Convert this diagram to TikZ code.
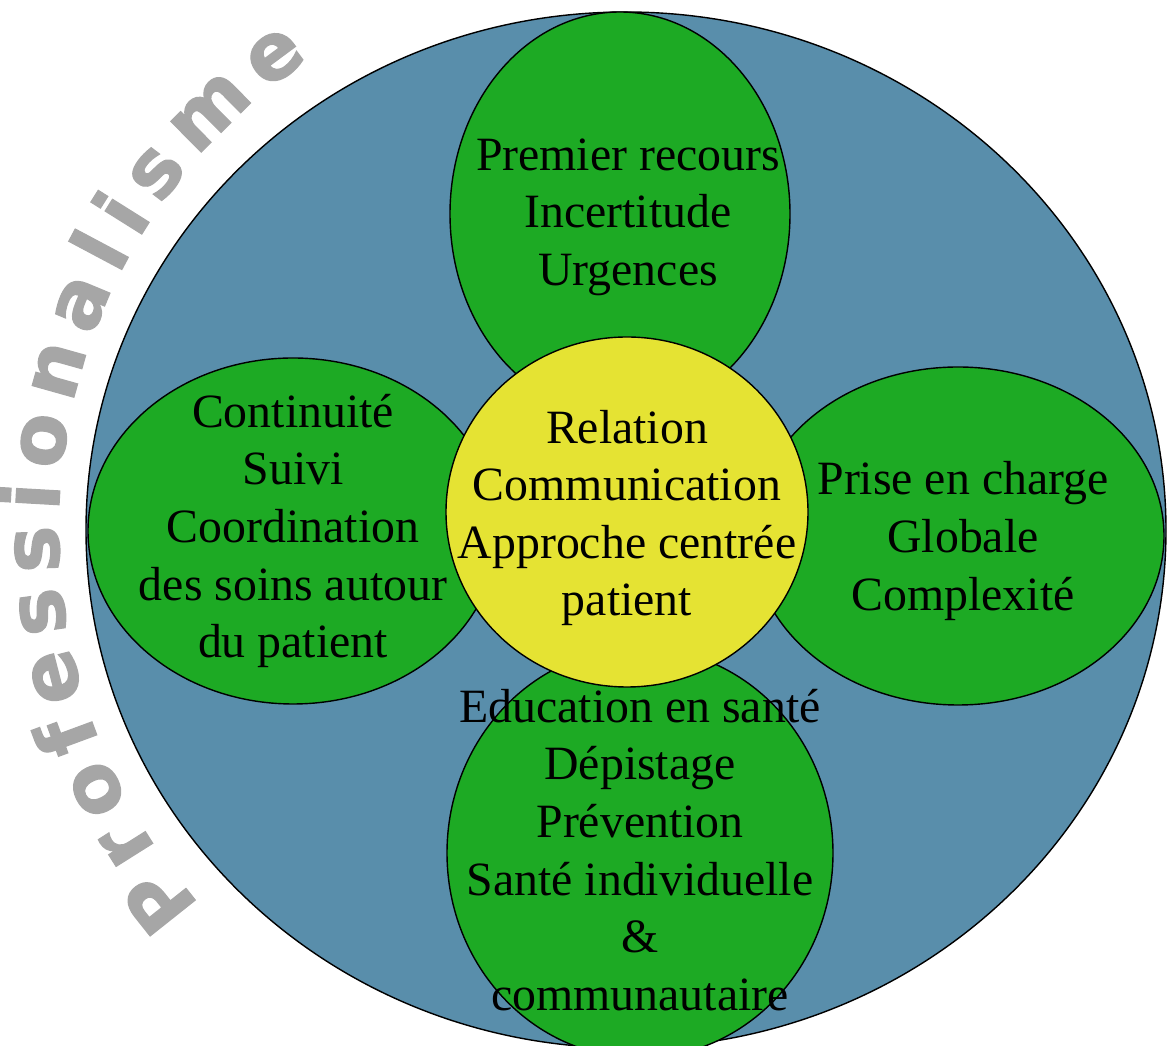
\documentclass[tikz,border=0pt]{standalone}
\usepackage{fontspec}
\setmainfont{Liberation Serif}
\newfontfamily\profont[FakeBold=1.5]{DejaVu Sans}
\usepackage{tikz}
\usepackage{xcolor}
\usetikzlibrary{shapes.geometric, decorations.text}

\definecolor{bluebg}{HTML}{598EAB}
\definecolor{petalgreen}{HTML}{1DAA24}
\definecolor{coreyellow}{HTML}{E5E333}
\definecolor{profgrey}{HTML}{A6A6A6}

\begin{document}
\begin{tikzpicture}[
	blob/.style={shape=ellipse, draw, line width=0.8pt, inner sep=0pt},
	petal/.style={blob, fill=petalgreen},
	txt/.style={align=center, inner sep=0pt, font=\fontsize{27.2}{32.8}\selectfont}]
	\useasboundingbox (0, 0) rectangle (23.34, 20.92);
	% Outer disc and the arc title:
	\node[blob, fill=bluebg, minimum width=21.6cm, minimum height=20.72cm](N1) at (12.52, 10.32){};
	\path[decorate, decoration={text along path, text={|\profont\bfseries\fontsize{45}{45}\selectfont|Professionalisme}, text align={fit to path}, text color=profgrey}]
		(N1.center) ++(221.4:11.35) arc[start angle=221.4, end angle=123.9, radius=11.35];
	% Petals:
	\node[petal, minimum width=6.8cm, minimum height=8.08cm](N2) at (12.40, 16.64){} node[txt](T2) at ([xshift=0.16cm, yshift=-0.06cm]N2.center){Premier recours\\Incertitude\\Urgences};
	\node[petal, minimum width=8.2cm, minimum height=6.92cm](N3) at (5.86, 10.30){} node[txt](T3) at (N3.center){Continuité\\Suivi\\Coordination\\des soins autour\\du patient};
	\node[petal, minimum width=8.24cm, minimum height=6.76cm](N4) at (19.16, 10.20){} node[txt](T4) at ([xshift=0.1cm, yshift=-0.1cm]N4.center){Prise en charge\\Globale\\Complexité};
	\node[petal, minimum width=7.72cm, minimum height=8.2cm](N5) at (12.80, 3.86){} node[txt](T5) at ([yshift=0.06cm]N5.center){Education en santé\\Dépistage\\Prévention\\Santé individuelle\\\&\\communautaire};
	% Centre:
	\node[blob, fill=coreyellow, minimum width=7.24cm, minimum height=7cm](N6) at (12.54, 10.68){} node[txt](T6) at ([yshift=-0.12cm]N6.center){Relation\\Communication\\Approche centrée\\patient};
\end{tikzpicture}
\end{document}
